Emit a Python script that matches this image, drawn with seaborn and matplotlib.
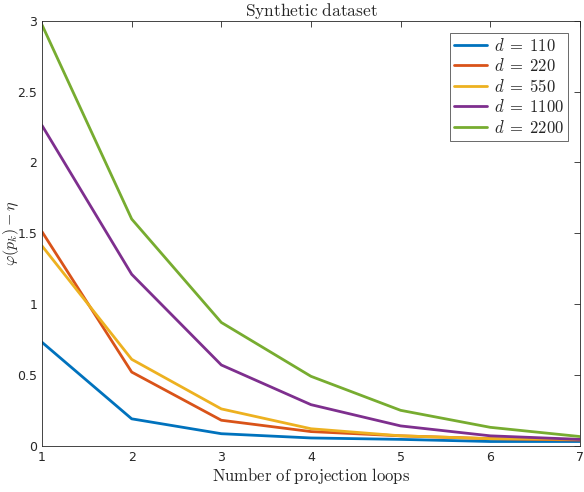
import numpy as np
import pandas as pd
import seaborn as sns
import matplotlib.pyplot as plt

# values
loops = [1, 2, 3, 4, 5, 6, 7]
d_values = [110, 220, 550, 1100, 2200]
gap_110 = [0.73, 0.19, 0.085, 0.055, 0.045, 0.03, 0.03]
gap_220 = [1.51, 0.52, 0.18, 0.10, 0.07, 0.05, 0.04]
gap_550 = [1.41, 0.61, 0.26, 0.12, 0.07, 0.05, 0.045]
gap_1100 = [2.26, 1.21, 0.57, 0.29, 0.14, 0.07, 0.045]
gap_2200 = [2.97, 1.60, 0.87, 0.49, 0.25, 0.13, 0.065]
colors = ['#0072BD', '#D95319', '#EDB120', '#7E2F8E', '#77AC30']

series = [gap_110, gap_220, gap_550, gap_1100, gap_2200]
rows = []
for d, vals in zip(d_values, series):
    for x, v in zip(loops, vals):
        rows.append({'loop': x, 'gap': v, 'd': rf'$d\;=\;{d}$'})
df = pd.DataFrame(rows)

sns.set_style('white')
plt.rcParams['mathtext.fontset'] = 'cm'
plt.rcParams['font.family'] = ['DejaVu Sans']
plt.rcParams['xtick.direction'] = 'in'
plt.rcParams['ytick.direction'] = 'in'

fig = plt.figure(figsize=(5.84, 4.92), dpi=100)
ax = fig.add_axes([0.072, 0.094, 0.921, 0.864])

sns.lineplot(data=df, x='loop', y='gap', hue='d', palette=colors, linewidth=2, ax=ax)

ax.set_xlim(1, 7)
ax.set_ylim(0, 3)
ax.set_xticks(loops)
ax.set_yticks([0, 0.5, 1, 1.5, 2, 2.5, 3])
ax.set_yticklabels(['0', '0.5', '1', '1.5', '2', '2.5', '3'])
ax.tick_params(axis='both', labelsize=9, colors='#262626', length=4, width=0.6,
               top=True, right=True)
for s in ax.spines.values():
    s.set_color('#262626')
    s.set_linewidth(0.6)

ax.set_title(r'$\mathrm{Synthetic\ dataset}$', fontsize=12.5, pad=3)
ax.set_xlabel(r'$\mathrm{Number\ of\ projection\ loops}$', fontsize=12, labelpad=2)
ax.set_ylabel(r'$\varphi(p_k)-\eta$', fontsize=11.5)
ax.yaxis.set_label_coords(-0.040, 0.5)

leg = ax.legend(loc='upper right', fontsize=12, frameon=True, fancybox=False,
                edgecolor='#262626', handlelength=2.0, borderpad=0.25,
                labelspacing=0.15, handletextpad=0.4, borderaxespad=0,
                bbox_to_anchor=(0.978, 0.972))
leg.get_frame().set_linewidth(0.6)
leg.set_title(None)

fig.savefig('out.png', dpi=100)
